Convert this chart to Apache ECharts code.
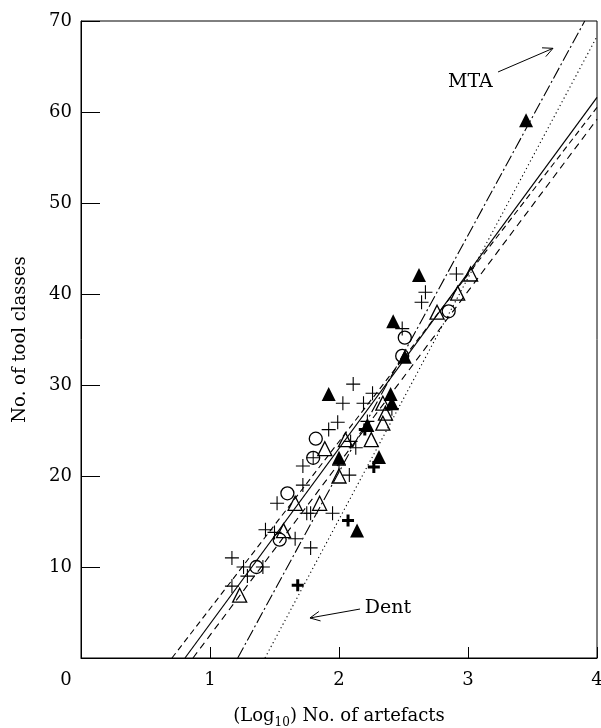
<!DOCTYPE html>
<html>
<head>
<meta charset="utf-8">
<script src="https://cdn.jsdelivr.net/npm/echarts@6/dist/echarts.min.js"></script>
<style>html,body{margin:0;padding:0;background:#fff}#c{width:601px;height:728px}</style>
</head>
<body>
<div id="c"></div>
<script>
// ---- data ----
var xTicks = [0, 1, 2, 3, 4];
var yTicks = [0, 10, 20, 30, 40, 50, 60, 70];

var plusThin = [
  [2.91,42.2],[2.67,40.2],[2.64,39.1],[2.49,36.2],
  [2.11,30.1],[2.03,28.0],[2.19,28.0],[2.26,29.1],[2.41,27.4],
  [1.99,25.9],[1.92,25.1],[2.22,26.0],
  [2.09,23.8],[2.13,23.1],[1.72,21.1],[2.00,21.2],[2.08,20.1],[1.72,19.0],
  [1.52,17.0],[1.75,15.9],[1.78,15.9],[1.95,15.9],
  [1.43,14.1],[1.50,13.8],[1.66,13.1],[1.78,12.1],
  [1.17,11.0],[1.26,10.0],[1.41,10.0],[1.29,9.0],[1.17,7.9]
];
var plusBold = [[2.07,15.1],[1.68,8.0],[2.27,21.0],[2.20,25.1]];
var triOpen = [[3.02,42.2],[2.92,40.1],[2.76,38.0],[2.34,28.0],[2.36,26.9],[2.34,25.8],
  [1.89,23.0],[2.05,24.0],[2.25,24.0],[2.00,20.0],[1.66,17.0],[1.85,17.0],[1.57,14.0],[1.23,6.9]];
var triFilled = [[3.45,59.1],[2.62,42.1],[2.42,37.0],[2.51,33.1],[1.92,29.0],[2.40,29.0],
  [2.41,28.0],[2.22,25.6],[2.00,22.0],[2.31,22.1],[2.14,14.0]];
var circleOpen = [[2.85,38.1],[2.51,35.2],[2.49,33.2],[1.82,24.1],[1.60,18.1],[1.54,13.0],[1.36,10.0]];
var circlePlus = [[1.80,22.0]];

// regression lines (end points)
var lineSolid    = [[0.806,0],[4,61.6]];
var lineDashA    = [[0.705,0],[4,60.5]];
var lineDashB    = [[0.868,0],[4,59.2]];
var lineMTA      = [[1.215,0],[3.905,70]];
var lineDent     = [[1.426,0],[4,68.3]];

// annotations
var mtaLabel = {text:'MTA', at:[2.845,63.3], tail:[3.233,64.4], tip:[3.659,67.0]};
var dentLabel = {text:'Dent', at:[2.20,5.5], tail:[2.163,5.38], tip:[1.775,4.4]};

// ---- chart ----
var FONT = 'DejaVu Serif';
var PLUS = 'path://M6.45,0H7.55V6.45H14V7.55H7.55V14H6.45V7.55H0V6.45H6.45Z';
var PLUSB = 'path://M4.5,0H7.5V4.5H12V7.5H7.5V12H4.5V7.5H0V4.5H4.5Z';
var chart = echarts.init(document.getElementById('c'), null, {renderer:'canvas'});

function lineSeries(d, type, w){
  return {type:'line', data:d, symbol:'none', silent:true, z:1,
    lineStyle:{color:'#000', width:w||1.1, type:type}, animation:false};
}
function scat(d, sym, size, fill, border, bw){
  return {type:'scatter', data:d, symbol:sym, symbolSize:size, z:3, animation:false,
    itemStyle:{color:fill, borderColor:border||fill, borderWidth:bw||0, opacity:1}};
}

chart.setOption({
  animation:false,
  grid:{left:81, right:4, top:21, bottom:70, containLabel:false, outerBoundsMode:'none',
    show:true, borderColor:'#000', borderWidth:1, backgroundColor:'transparent'},
  xAxis:{type:'value', min:xTicks[0], max:xTicks[xTicks.length-1], interval:1,
    name:'(Log{s|10}) No. of artefacts', nameLocation:'middle', nameGap:45,
    nameTextStyle:{fontFamily:FONT, fontSize:18, color:'#000',
      rich:{s:{fontFamily:FONT, fontSize:12, color:'#000', verticalAlign:'bottom', padding:[14,0,0,0]}}},
    axisLine:{lineStyle:{color:'#000', width:1}},
    axisTick:{inside:true, length:11, lineStyle:{color:'#000'}},
    splitLine:{show:false},
    axisLabel:{fontFamily:FONT, fontSize:18, color:'#000', margin:13,
      formatter:function(v){ return v===0 ? '{z|0}' : String(v); },
      rich:{z:{fontFamily:FONT, fontSize:18, color:'#000', padding:[0,30,0,0]}}}
  },
  yAxis:{type:'value', min:yTicks[0], max:yTicks[yTicks.length-1], interval:10,
    name:'No. of tool classes', nameLocation:'middle', nameGap:52,
    nameTextStyle:{fontFamily:FONT, fontSize:18, color:'#000'},
    axisLine:{lineStyle:{color:'#000', width:1}},
    axisTick:{inside:true, length:19, lineStyle:{color:'#000'}},
    splitLine:{show:false},
    axisLabel:{fontFamily:FONT, fontSize:18, color:'#000', margin:9,
      formatter:function(v){ return v===0 ? '' : String(v); }}
  },
  series:[
    lineSeries(lineSolid, 'solid', 1.2),
    lineSeries(lineDashA, [6,4], 1.1),
    lineSeries(lineDashB, [7,5], 1.1),
    lineSeries(lineMTA, [12,3,2,3], 1.1),
    lineSeries(lineDent, [1.2,3], 1.1),
    scat(plusThin, PLUS, 14, '#000'),
    scat(plusBold, PLUSB, 12, '#000'),
    scat(triOpen, 'triangle', 14, 'rgba(255,255,255,0)', '#000', 1.3),
    scat(triFilled, 'triangle', 14, '#000'),
    scat(circleOpen, 'circle', 13, 'rgba(255,255,255,0)', '#000', 1.3),
    scat(circlePlus, 'circle', 13, 'rgba(255,255,255,0)', '#000', 1.3),
    scat(circlePlus, PLUS, 13, '#000')
  ]
});

function px(p){ return chart.convertToPixel({gridIndex:0}, p); }
function arrow(a){
  var t = px(a.tail), h = px(a.tip);
  var ang = Math.atan2(h[1]-t[1], h[0]-t[0]);
  var L = 11, sp = 0.45;
  var p1 = [h[0]-L*Math.cos(ang-sp), h[1]-L*Math.sin(ang-sp)];
  var p2 = [h[0]-L*Math.cos(ang+sp), h[1]-L*Math.sin(ang+sp)];
  return [
    {type:'polyline', shape:{points:[t,h]}, style:{stroke:'#000', lineWidth:1, fill:null}, z:10},
    {type:'polyline', shape:{points:[p1,h,p2]}, style:{stroke:'#000', lineWidth:1, fill:null}, z:10}
  ];
}
function label(a){
  var p = px(a.at);
  return {type:'text', x:p[0], y:p[1], z:10,
    style:{text:a.text, fontFamily:FONT, fontSize:19, fill:'#000', textAlign:'left', textVerticalAlign:'middle'}};
}
chart.setOption({graphic:[].concat(arrow(mtaLabel), arrow(dentLabel), [label(mtaLabel), label(dentLabel)])});
</script>
</body>
</html>
